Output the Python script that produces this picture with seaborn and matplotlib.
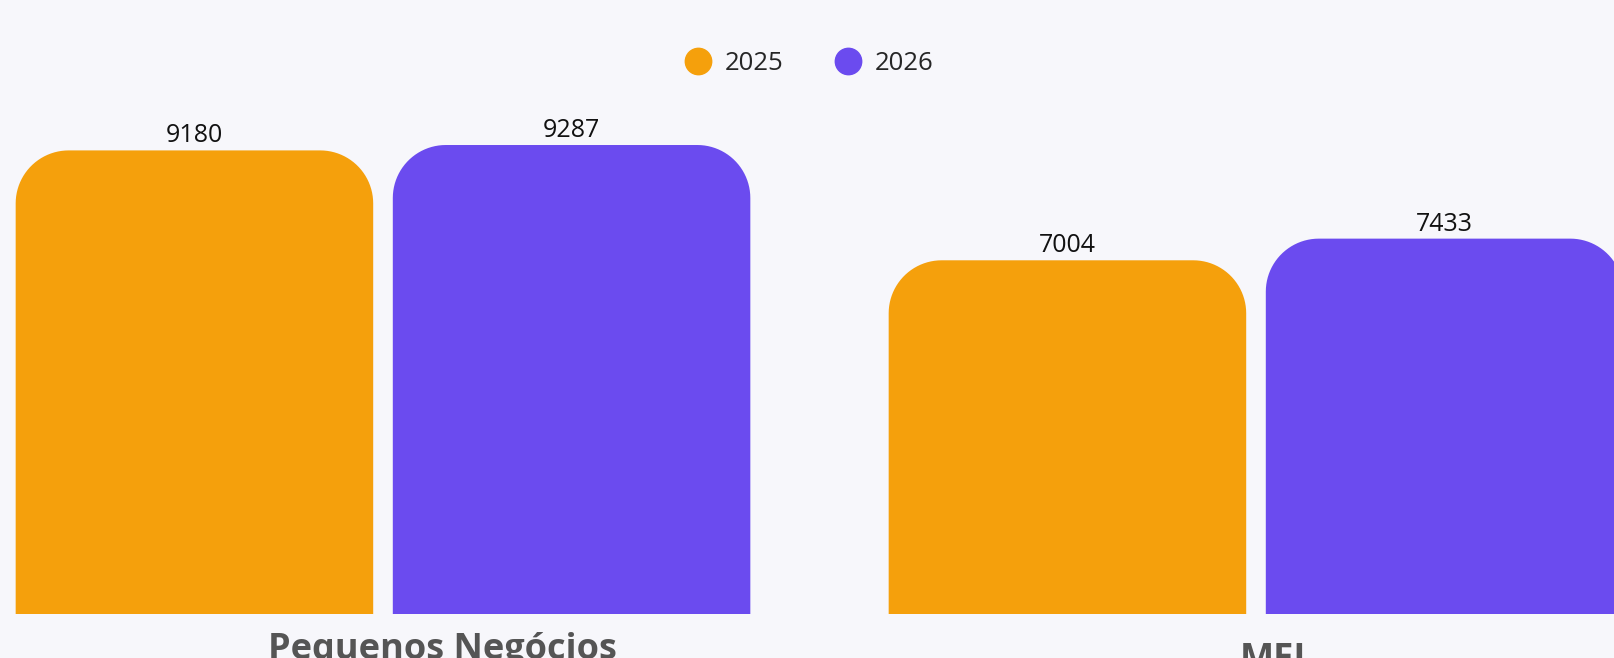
import numpy as np
import pandas as pd
import matplotlib
matplotlib.use("Agg")
import matplotlib.pyplot as plt
import seaborn as sns
from matplotlib.patches import Polygon
from matplotlib.lines import Line2D

# data
categories = ["Pequenos Negócios", "MEI"]
years = ["2025", "2026"]
values_2025 = [9180, 7004]
values_2026 = [9287, 7433]
colors = ["#f5a00c", "#6b4bef"]

df = pd.DataFrame({
    "categoria": categories * 2,
    "ano": [years[0]] * 2 + [years[1]] * 2,
    "valor": values_2025 + values_2026,
})

sns.set_theme(style="white")
plt.rcParams["font.family"] = ["Open Sans", "DejaVu Sans"]
bg = "#f7f7fb"

fig = plt.figure(figsize=(16.15, 6.58), dpi=100, facecolor=bg)
ax = fig.add_axes([0, 0, 1, 1], facecolor=bg)

sns.barplot(data=df, x="categoria", y="valor", hue="ano", palette=colors,
            saturation=1, width=0.864, gap=0.052, legend=False, ax=ax)

# layout in pixels -> data limits
px_per_cat = 873
px_per_val = 0.0505
x0_px, base_px = 383, 614
ax.set_xlim(-x0_px / px_per_cat, (1615 - x0_px) / px_per_cat)
ax.set_ylim(-(658 - base_px) / px_per_val, base_px / px_per_val)


def rounded_top(x, w, h, rx, ry, n=24):
    t = np.linspace(np.pi, np.pi / 2, n)
    left = np.column_stack([x + rx + rx * np.cos(t), h - ry + ry * np.sin(t)])
    t = np.linspace(np.pi / 2, 0, n)
    right = np.column_stack([x + w - rx + rx * np.cos(t), h - ry + ry * np.sin(t)])
    return np.vstack([[[x, 0]], left, right, [[x + w, 0]]])


# rounded tops
r_px = 53
rx = r_px / px_per_cat
ry = r_px / px_per_val
for p in list(ax.patches):
    x, w, h = p.get_x(), p.get_width(), p.get_height()
    c = p.get_facecolor()
    p.remove()
    ax.add_patch(Polygon(rounded_top(x, w, h, rx, ry), closed=True, fc=c, ec="none"))
    ax.text(x + w / 2, h + 160, f"{int(round(h))}", ha="center", va="baseline",
            fontsize=18, color="#111111")

# category labels
ax.text(0.068, -900, categories[0], ha="center", va="baseline", fontsize=26,
        fontweight="bold", color="#555555", clip_on=False)
ax.text(1.019, -1090, categories[1], ha="center", va="baseline", fontsize=26,
        fontweight="bold", color="#555555", clip_on=False)

ax.set_xticks([])
ax.set_yticks([])
ax.set_xlabel("")
ax.set_ylabel("")
for s in ax.spines.values():
    s.set_visible(False)

handles = [Line2D([], [], marker="o", linestyle="", markersize=19,
                  markerfacecolor=c, markeredgecolor=c) for c in colors]
fig.legend(handles, years, loc="center", bbox_to_anchor=(0.501, 0.904), ncol=2,
           frameon=False, fontsize=18.5, handletextpad=0.55, columnspacing=2.0,
           handlelength=1.0)

fig.savefig("out.png", dpi=100, facecolor=bg)
